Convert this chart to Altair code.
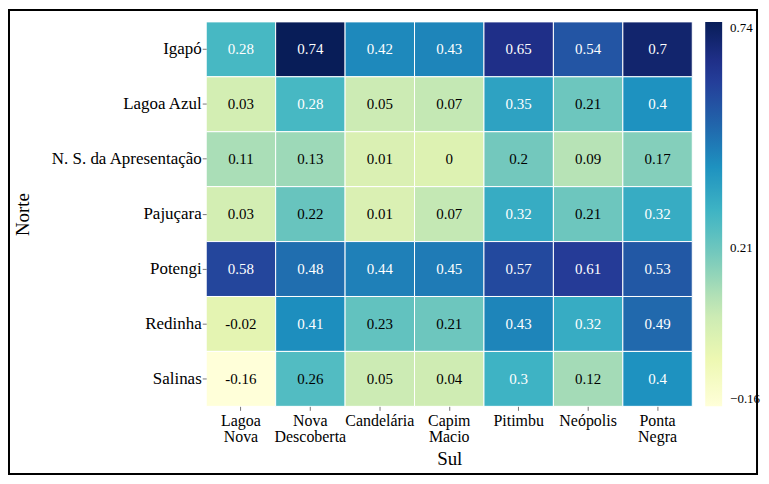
import altair as alt
import pandas as pd

rows = ["Igapó", "Lagoa Azul", "N. S. da Apresentação", "Pajuçara", "Potengi", "Redinha", "Salinas"]
cols = ["Lagoa Nova", "Nova Descoberta", "Candelária", "Capim Macio", "Pitimbu", "Neópolis", "Ponta Negra"]

igapo = [0.28, 0.74, 0.42, 0.43, 0.65, 0.54, 0.7]
lagoa_azul = [0.03, 0.28, 0.05, 0.07, 0.35, 0.21, 0.4]
ns_apresentacao = [0.11, 0.13, 0.01, 0, 0.2, 0.09, 0.17]
pajucara = [0.03, 0.22, 0.01, 0.07, 0.32, 0.21, 0.32]
potengi = [0.58, 0.48, 0.44, 0.45, 0.57, 0.61, 0.53]
redinha = [-0.02, 0.41, 0.23, 0.21, 0.43, 0.32, 0.49]
salinas = [-0.16, 0.26, 0.05, 0.04, 0.3, 0.12, 0.4]
vals = [igapo, lagoa_azul, ns_apresentacao, pajucara, potengi, redinha, salinas]

legend_ticks = [-0.16, 0.21, 0.74]

records = []
for r, rowvals in zip(rows, vals):
    for c, v in zip(cols, rowvals):
        records.append({"norte": r, "sul": c, "v": v, "label": f"{v:g}"})
df = pd.DataFrame(records)

ylgnbu = ["#ffffd9", "#edf8b1", "#c7e9b4", "#7fcdbb", "#41b6c4",
          "#1d91c0", "#225ea8", "#253494", "#081d58"]
vmin, vmax = -0.16, 0.74
stops = [vmin + (vmax - vmin) * i / 8 for i in range(9)]

FONT = "Liberation Serif"
W, H = 488, 386

base = alt.Chart(df).encode(
    x=alt.X("sul:N", sort=cols, title="Sul",
            scale=alt.Scale(paddingInner=0, paddingOuter=0),
            axis=alt.Axis(labelAngle=0, labelExpr="split(datum.label, ' ')",
                          labelFont=FONT, labelFontSize=16, labelColor="black",
                          labelLineHeight=16, labelPadding=2, labelBaseline="top",
                          tickColor="#777", tickSize=4, domain=False,
                          titleFont=FONT, titleFontSize=19, titleFontWeight="normal",
                          titleColor="black", titlePadding=5)),
    y=alt.Y("norte:N", sort=rows, title="Norte",
            scale=alt.Scale(paddingInner=0, paddingOuter=0),
            axis=alt.Axis(labelFont=FONT, labelFontSize=17, labelColor="black",
                          labelPadding=1, tickColor="#777", tickSize=4, domain=False,
                          titleFont=FONT, titleFontSize=19, titleFontWeight="normal",
                          titleColor="black", titlePadding=18)),
)

rect = base.mark_rect(stroke="white", strokeWidth=1).encode(
    color=alt.Color("v:Q",
                    scale=alt.Scale(domain=stops, range=ylgnbu, interpolate="rgb"),
                    legend=alt.Legend(orient="none", legendX=501, legendY=0,
                                      direction="vertical", gradientLength=H,
                                      gradientThickness=17, values=legend_ticks,
                                      labelExpr="replace(format(datum.value, '.2f'), '-', '\u2212')",
                                      labelFont=FONT, labelFontSize=13, labelColor="black",
                                      labelBaseline="middle", labelOffset=8,
                                      gradientStrokeWidth=0, padding=0, title=None))
)

text = base.mark_text(font=FONT, fontSize=15).encode(
    text="label:N",
    color=alt.condition("datum.v >= 0.27", alt.value("white"), alt.value("black")),
)

frame = alt.Chart(alt.Data(values=[{"a": 1}])).mark_rect(
    filled=False, stroke="black", strokeWidth=2
).encode(
    x=alt.value(-198), x2=alt.value(553), y=alt.value(-12), y2=alt.value(454)
)

chart = alt.layer(rect, text, frame).properties(
    width=W, height=H,
    padding={"left": 0, "top": 0, "right": 0, "bottom": 0},
    background="white",
).configure(font=FONT).configure_view(stroke=None)

chart.save("out.html", embed_options={"renderer": "svg", "actions": False})
